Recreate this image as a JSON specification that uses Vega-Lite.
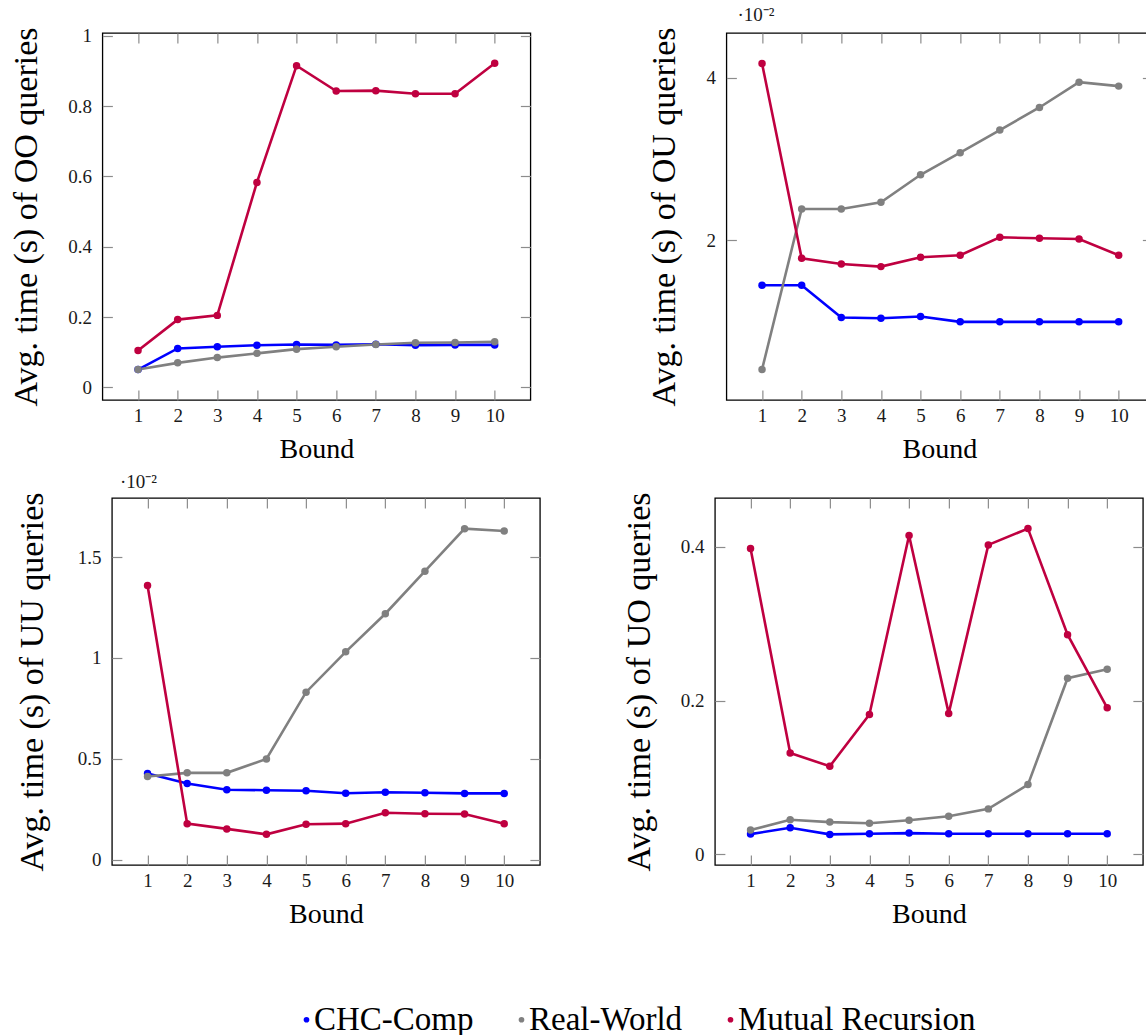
{
  "$schema": "https://vega.github.io/schema/vega-lite/v6.json",
  "padding": {"left": 8, "top": 5, "right": 0, "bottom": 0},
  "data": {"values": [
    {"panel":"OO","series":"CHC-Comp","bound":1,"value":0.051},{"panel":"OO","series":"CHC-Comp","bound":2,"value":0.111},{"panel":"OO","series":"CHC-Comp","bound":3,"value":0.116},{"panel":"OO","series":"CHC-Comp","bound":4,"value":0.120},{"panel":"OO","series":"CHC-Comp","bound":5,"value":0.122},{"panel":"OO","series":"CHC-Comp","bound":6,"value":0.121},{"panel":"OO","series":"CHC-Comp","bound":7,"value":0.123},{"panel":"OO","series":"CHC-Comp","bound":8,"value":0.120},{"panel":"OO","series":"CHC-Comp","bound":9,"value":0.121},{"panel":"OO","series":"CHC-Comp","bound":10,"value":0.121},
    {"panel":"OO","series":"Real-World","bound":1,"value":0.051},{"panel":"OO","series":"Real-World","bound":2,"value":0.070},{"panel":"OO","series":"Real-World","bound":3,"value":0.085},{"panel":"OO","series":"Real-World","bound":4,"value":0.097},{"panel":"OO","series":"Real-World","bound":5,"value":0.109},{"panel":"OO","series":"Real-World","bound":6,"value":0.116},{"panel":"OO","series":"Real-World","bound":7,"value":0.122},{"panel":"OO","series":"Real-World","bound":8,"value":0.127},{"panel":"OO","series":"Real-World","bound":9,"value":0.128},{"panel":"OO","series":"Real-World","bound":10,"value":0.130},
    {"panel":"OO","series":"Mutual Recursion","bound":1,"value":0.105},{"panel":"OO","series":"Mutual Recursion","bound":2,"value":0.193},{"panel":"OO","series":"Mutual Recursion","bound":3,"value":0.205},{"panel":"OO","series":"Mutual Recursion","bound":4,"value":0.583},{"panel":"OO","series":"Mutual Recursion","bound":5,"value":0.915},{"panel":"OO","series":"Mutual Recursion","bound":6,"value":0.843},{"panel":"OO","series":"Mutual Recursion","bound":7,"value":0.844},{"panel":"OO","series":"Mutual Recursion","bound":8,"value":0.835},{"panel":"OO","series":"Mutual Recursion","bound":9,"value":0.835},{"panel":"OO","series":"Mutual Recursion","bound":10,"value":0.922},
    {"panel":"OU","series":"CHC-Comp","bound":1,"value":0.01447},{"panel":"OU","series":"CHC-Comp","bound":2,"value":0.01447},{"panel":"OU","series":"CHC-Comp","bound":3,"value":0.01049},{"panel":"OU","series":"CHC-Comp","bound":4,"value":0.01041},{"panel":"OU","series":"CHC-Comp","bound":5,"value":0.01061},{"panel":"OU","series":"CHC-Comp","bound":6,"value":0.00996},{"panel":"OU","series":"CHC-Comp","bound":7,"value":0.00996},{"panel":"OU","series":"CHC-Comp","bound":8,"value":0.00996},{"panel":"OU","series":"CHC-Comp","bound":9,"value":0.00996},{"panel":"OU","series":"CHC-Comp","bound":10,"value":0.00996},
    {"panel":"OU","series":"Real-World","bound":1,"value":0.0041},{"panel":"OU","series":"Real-World","bound":2,"value":0.02385},{"panel":"OU","series":"Real-World","bound":3,"value":0.02385},{"panel":"OU","series":"Real-World","bound":4,"value":0.02467},{"panel":"OU","series":"Real-World","bound":5,"value":0.02807},{"panel":"OU","series":"Real-World","bound":6,"value":0.03078},{"panel":"OU","series":"Real-World","bound":7,"value":0.03357},{"panel":"OU","series":"Real-World","bound":8,"value":0.03635},{"panel":"OU","series":"Real-World","bound":9,"value":0.03947},{"panel":"OU","series":"Real-World","bound":10,"value":0.03898},
    {"panel":"OU","series":"Mutual Recursion","bound":1,"value":0.04176},{"panel":"OU","series":"Mutual Recursion","bound":2,"value":0.01779},{"panel":"OU","series":"Mutual Recursion","bound":3,"value":0.01709},{"panel":"OU","series":"Mutual Recursion","bound":4,"value":0.01676},{"panel":"OU","series":"Mutual Recursion","bound":5,"value":0.01791},{"panel":"OU","series":"Mutual Recursion","bound":6,"value":0.01816},{"panel":"OU","series":"Mutual Recursion","bound":7,"value":0.02037},{"panel":"OU","series":"Mutual Recursion","bound":8,"value":0.02025},{"panel":"OU","series":"Mutual Recursion","bound":9,"value":0.02016},{"panel":"OU","series":"Mutual Recursion","bound":10,"value":0.01816},
    {"panel":"UU","series":"CHC-Comp","bound":1,"value":0.00427},{"panel":"UU","series":"CHC-Comp","bound":2,"value":0.00377},{"panel":"UU","series":"CHC-Comp","bound":3,"value":0.00346},{"panel":"UU","series":"CHC-Comp","bound":4,"value":0.00344},{"panel":"UU","series":"CHC-Comp","bound":5,"value":0.00341},{"panel":"UU","series":"CHC-Comp","bound":6,"value":0.00329},{"panel":"UU","series":"CHC-Comp","bound":7,"value":0.00334},{"panel":"UU","series":"CHC-Comp","bound":8,"value":0.00331},{"panel":"UU","series":"CHC-Comp","bound":9,"value":0.00328},{"panel":"UU","series":"CHC-Comp","bound":10,"value":0.00328},
    {"panel":"UU","series":"Real-World","bound":1,"value":0.00412},{"panel":"UU","series":"Real-World","bound":2,"value":0.0043},{"panel":"UU","series":"Real-World","bound":3,"value":0.0043},{"panel":"UU","series":"Real-World","bound":4,"value":0.00499},{"panel":"UU","series":"Real-World","bound":5,"value":0.0083},{"panel":"UU","series":"Real-World","bound":6,"value":0.0103},{"panel":"UU","series":"Real-World","bound":7,"value":0.01219},{"panel":"UU","series":"Real-World","bound":8,"value":0.0143},{"panel":"UU","series":"Real-World","bound":9,"value":0.01641},{"panel":"UU","series":"Real-World","bound":10,"value":0.01629},
    {"panel":"UU","series":"Mutual Recursion","bound":1,"value":0.01359},{"panel":"UU","series":"Mutual Recursion","bound":2,"value":0.00178},{"panel":"UU","series":"Mutual Recursion","bound":3,"value":0.00152},{"panel":"UU","series":"Mutual Recursion","bound":4,"value":0.00125},{"panel":"UU","series":"Mutual Recursion","bound":5,"value":0.00175},{"panel":"UU","series":"Mutual Recursion","bound":6,"value":0.00178},{"panel":"UU","series":"Mutual Recursion","bound":7,"value":0.00232},{"panel":"UU","series":"Mutual Recursion","bound":8,"value":0.00227},{"panel":"UU","series":"Mutual Recursion","bound":9,"value":0.00226},{"panel":"UU","series":"Mutual Recursion","bound":10,"value":0.00178},
    {"panel":"UO","series":"CHC-Comp","bound":1,"value":0.0264},{"panel":"UO","series":"CHC-Comp","bound":2,"value":0.0346},{"panel":"UO","series":"CHC-Comp","bound":3,"value":0.026},{"panel":"UO","series":"CHC-Comp","bound":4,"value":0.0268},{"panel":"UO","series":"CHC-Comp","bound":5,"value":0.0277},{"panel":"UO","series":"CHC-Comp","bound":6,"value":0.0268},{"panel":"UO","series":"CHC-Comp","bound":7,"value":0.0268},{"panel":"UO","series":"CHC-Comp","bound":8,"value":0.0268},{"panel":"UO","series":"CHC-Comp","bound":9,"value":0.0268},{"panel":"UO","series":"CHC-Comp","bound":10,"value":0.0268},
    {"panel":"UO","series":"Real-World","bound":1,"value":0.0316},{"panel":"UO","series":"Real-World","bound":2,"value":0.045},{"panel":"UO","series":"Real-World","bound":3,"value":0.042},{"panel":"UO","series":"Real-World","bound":4,"value":0.0406},{"panel":"UO","series":"Real-World","bound":5,"value":0.0445},{"panel":"UO","series":"Real-World","bound":6,"value":0.0497},{"panel":"UO","series":"Real-World","bound":7,"value":0.0592},{"panel":"UO","series":"Real-World","bound":8,"value":0.0908},{"panel":"UO","series":"Real-World","bound":9,"value":0.2292},{"panel":"UO","series":"Real-World","bound":10,"value":0.2409},
    {"panel":"UO","series":"Mutual Recursion","bound":1,"value":0.398},{"panel":"UO","series":"Mutual Recursion","bound":2,"value":0.132},{"panel":"UO","series":"Mutual Recursion","bound":3,"value":0.1146},{"panel":"UO","series":"Mutual Recursion","bound":4,"value":0.182},{"panel":"UO","series":"Mutual Recursion","bound":5,"value":0.4147},{"panel":"UO","series":"Mutual Recursion","bound":6,"value":0.1834},{"panel":"UO","series":"Mutual Recursion","bound":7,"value":0.4026},{"panel":"UO","series":"Mutual Recursion","bound":8,"value":0.4238},{"panel":"UO","series":"Mutual Recursion","bound":9,"value":0.2858},{"panel":"UO","series":"Mutual Recursion","bound":10,"value":0.1907}
  ]},
  "config": {
    "font": "Liberation Serif",
    "view": {"stroke": "#000000", "strokeWidth": 1.3},
    "axis": {"domain": false, "grid": false, "tickColor": "#8c8c8c", "tickSize": -10, "tickWidth": 1.2, "labelFontSize": 19, "labelColor": "#1a1a1a", "labelFont": "Liberation Serif", "titleFont": "Liberation Serif", "titleFontWeight": "normal", "titleColor": "#000000"},
    "axisX": {"titleFontSize": 28, "titlePadding": 10, "labelPadding": 16},
    "axisY": {"titleFontSize": 34, "titlePadding": 24, "labelPadding": 21},
    "title": {"font": "Liberation Serif", "fontSize": 19, "fontWeight": "normal", "anchor": "start", "frame": "group", "baseline": "alphabetic", "color": "#1a1a1a"},
    "legend": {"labelFont": "Liberation Serif"}
  },
  "center": true,
  "spacing": 8,
  "vconcat": [
    {"hconcat": [
      {
        "width": 428, "height": 367,
        "transform": [{"filter": "datum.panel === 'OO'"}],
        "layer": [
          {"mark": {"type": "line", "strokeWidth": 2.6},
           "encoding": {
             "x": {"field": "bound", "type": "quantitative", "scale": {"domain": [0.1, 10.9], "nice": false, "zero": false}, "axis": {"values": [1,2,3,4,5,6,7,8,9,10], "format": "d", "title": "Bound"}},
             "y": {"field": "value", "type": "quantitative", "scale": {"domain": [-0.0356, 1.0079], "nice": false, "zero": false}, "axis": {"values": [0,0.2,0.4,0.6,0.8,1], "format": "~g", "title": "Avg.  time (s) of OO queries"}},
             "color": {"field": "series", "type": "nominal", "sort": null, "scale": {"domain": ["CHC-Comp","Real-World","Mutual Recursion"], "range": ["#0000ff","#808080","#bf0040"]},
               "legend": {"orient": "none", "legendX": 188, "legendY": 970, "direction": "horizontal", "title": null, "labelFontSize": 33, "labelLimit": 500, "labelColor": "#000000", "symbolType": "circle", "symbolSize": 32, "symbolStrokeWidth": 0, "labelOffset": -9, "columnPadding": 31}}
           }},
          {"mark": {"type": "point", "filled": true, "size": 56, "opacity": 1},
           "encoding": {
             "x": {"field": "bound", "type": "quantitative", "scale": {"domain": [0.1, 10.9], "nice": false, "zero": false}, "axis": null},
             "y": {"field": "value", "type": "quantitative", "scale": {"domain": [-0.0356, 1.0079], "nice": false, "zero": false}, "axis": null},
             "color": {"field": "series", "type": "nominal", "sort": null}
           }},
          {"mark": {"type": "point", "opacity": 0},
           "encoding": {
             "x": {"field": "bound", "type": "quantitative", "scale": {"domain": [0.1, 10.9], "nice": false, "zero": false}, "axis": {"orient": "top", "values": [1,2,3,4,5,6,7,8,9,10], "labels": false, "title": null}},
             "y": {"field": "value", "type": "quantitative", "scale": {"domain": [-0.0356, 1.0079], "nice": false, "zero": false}, "axis": {"orient": "right", "values": [0,0.2,0.4,0.6,0.8,1], "labels": false, "title": null}}
           }}
        ],
        "resolve": {"axis": {"x": "independent", "y": "independent"}}
      },
      {
        "width": 426, "height": 367,
        "title": {"text": "·10⁻²", "offset": -2, "dx": 11},
        "transform": [{"filter": "datum.panel === 'OU'"}],
        "layer": [
          {"mark": {"type": "line", "strokeWidth": 2.6},
           "encoding": {
             "x": {"field": "bound", "type": "quantitative", "scale": {"domain": [0.1, 10.85], "nice": false, "zero": false}, "axis": {"values": [1,2,3,4,5,6,7,8,9,10], "format": "d", "title": "Bound"}},
             "y": {"field": "value", "type": "quantitative", "scale": {"domain": [0.00034, 0.04552], "nice": false, "zero": false}, "axis": {"values": [0.02,0.04], "labelExpr": "format(datum.value*100,'~g')", "title": "Avg.  time (s) of OU queries"}},
             "color": {"field": "series", "type": "nominal", "sort": null}
           }},
          {"mark": {"type": "point", "filled": true, "size": 56, "opacity": 1},
           "encoding": {
             "x": {"field": "bound", "type": "quantitative", "scale": {"domain": [0.1, 10.85], "nice": false, "zero": false}, "axis": null},
             "y": {"field": "value", "type": "quantitative", "scale": {"domain": [0.00034, 0.04552], "nice": false, "zero": false}, "axis": null},
             "color": {"field": "series", "type": "nominal", "sort": null}
           }},
          {"mark": {"type": "point", "opacity": 0},
           "encoding": {
             "x": {"field": "bound", "type": "quantitative", "scale": {"domain": [0.1, 10.85], "nice": false, "zero": false}, "axis": {"orient": "top", "values": [1,2,3,4,5,6,7,8,9,10], "labels": false, "title": null}},
             "y": {"field": "value", "type": "quantitative", "scale": {"domain": [0.00034, 0.04552], "nice": false, "zero": false}, "axis": {"orient": "right", "values": [0.02,0.04], "labels": false, "title": null}}
           }}
        ],
        "resolve": {"axis": {"x": "independent", "y": "independent"}}
      }
    ], "spacing": 114},
    {"hconcat": [
      {
        "width": 428, "height": 367,
        "title": {"text": "·10⁻²", "offset": -4, "dx": 8},
        "transform": [{"filter": "datum.panel === 'UU'"}],
        "layer": [
          {"mark": {"type": "line", "strokeWidth": 2.6},
           "encoding": {
             "x": {"field": "bound", "type": "quantitative", "scale": {"domain": [0.1, 10.9], "nice": false, "zero": false}, "axis": {"values": [1,2,3,4,5,6,7,8,9,10], "format": "d", "title": "Bound"}},
             "y": {"field": "value", "type": "quantitative", "scale": {"domain": [-0.00027, 0.01793], "nice": false, "zero": false}, "axis": {"values": [0,0.005,0.01,0.015], "labelExpr": "format(datum.value*100,'~g')", "title": "Avg.  time (s) of UU queries", "titlePadding": 28}},
             "color": {"field": "series", "type": "nominal", "sort": null}
           }},
          {"mark": {"type": "point", "filled": true, "size": 56, "opacity": 1},
           "encoding": {
             "x": {"field": "bound", "type": "quantitative", "scale": {"domain": [0.1, 10.9], "nice": false, "zero": false}, "axis": null},
             "y": {"field": "value", "type": "quantitative", "scale": {"domain": [-0.00027, 0.01793], "nice": false, "zero": false}, "axis": null},
             "color": {"field": "series", "type": "nominal", "sort": null}
           }},
          {"mark": {"type": "point", "opacity": 0},
           "encoding": {
             "x": {"field": "bound", "type": "quantitative", "scale": {"domain": [0.1, 10.9], "nice": false, "zero": false}, "axis": {"orient": "top", "values": [1,2,3,4,5,6,7,8,9,10], "labels": false, "title": null}},
             "y": {"field": "value", "type": "quantitative", "scale": {"domain": [-0.00027, 0.01793], "nice": false, "zero": false}, "axis": {"orient": "right", "values": [0,0.005,0.01,0.015], "labels": false, "title": null}}
           }}
        ],
        "resolve": {"axis": {"x": "independent", "y": "independent"}}
      },
      {
        "width": 428, "height": 367,
        "transform": [{"filter": "datum.panel === 'UO'"}],
        "layer": [
          {"mark": {"type": "line", "strokeWidth": 2.6},
           "encoding": {
             "x": {"field": "bound", "type": "quantitative", "scale": {"domain": [0.1, 10.9], "nice": false, "zero": false}, "axis": {"values": [1,2,3,4,5,6,7,8,9,10], "format": "d", "title": "Bound"}},
             "y": {"field": "value", "type": "quantitative", "scale": {"domain": [-0.0138, 0.4636], "nice": false, "zero": false}, "axis": {"values": [0,0.2,0.4], "format": "~g", "title": "Avg.  time (s) of UO queries"}},
             "color": {"field": "series", "type": "nominal", "sort": null}
           }},
          {"mark": {"type": "point", "filled": true, "size": 56, "opacity": 1},
           "encoding": {
             "x": {"field": "bound", "type": "quantitative", "scale": {"domain": [0.1, 10.9], "nice": false, "zero": false}, "axis": null},
             "y": {"field": "value", "type": "quantitative", "scale": {"domain": [-0.0138, 0.4636], "nice": false, "zero": false}, "axis": null},
             "color": {"field": "series", "type": "nominal", "sort": null}
           }},
          {"mark": {"type": "point", "opacity": 0},
           "encoding": {
             "x": {"field": "bound", "type": "quantitative", "scale": {"domain": [0.1, 10.9], "nice": false, "zero": false}, "axis": {"orient": "top", "values": [1,2,3,4,5,6,7,8,9,10], "labels": false, "title": null}},
             "y": {"field": "value", "type": "quantitative", "scale": {"domain": [-0.0138, 0.4636], "nice": false, "zero": false}, "axis": {"orient": "right", "values": [0,0.2,0.4], "labels": false, "title": null}}
           }}
        ],
        "resolve": {"axis": {"x": "independent", "y": "independent"}}
      }
    ], "spacing": 79}
  ]
}
